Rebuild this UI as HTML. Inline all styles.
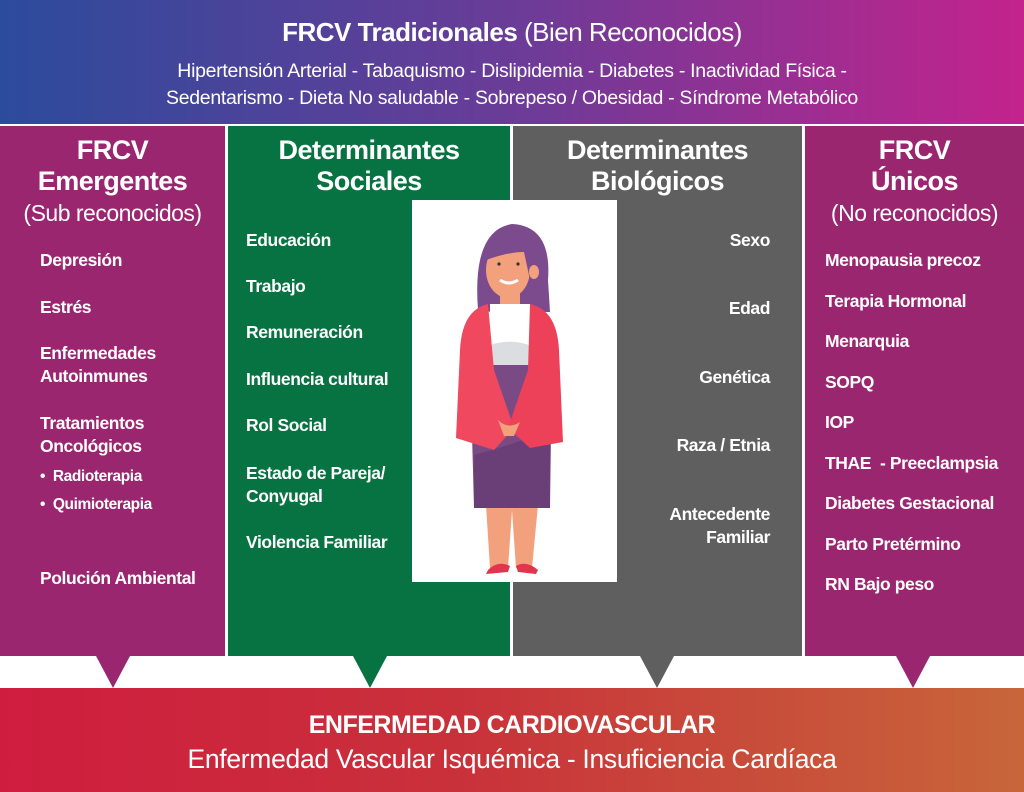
<!DOCTYPE html>
<html><head><meta charset="utf-8"><style>
*{margin:0;padding:0;box-sizing:border-box}
body{width:1024px;height:792px;position:relative;overflow:hidden;background:#fff;font-family:"Liberation Sans",sans-serif;color:#fff;font-weight:bold}
.a{position:absolute;white-space:nowrap}
.col{position:absolute;top:126px;height:530px}
.h{font-size:27px;line-height:31px;text-align:center;letter-spacing:-0.5px}
.i{font-size:17.5px;letter-spacing:-0.4px;line-height:23px}
.r{text-align:right}
</style></head><body>
<div class="a" style="left:0;top:0;width:1024px;height:124px;background:linear-gradient(90deg,#2c4b9c,#6a3c98 50%,#c3238c)"></div>
<div class="a" style="left:0;top:17px;width:1024px;text-align:center;font-size:26px;letter-spacing:-0.5px">FRCV Tradicionales <span style="font-weight:normal">(Bien Reconocidos)</span></div>
<div class="a" style="left:0;top:58px;width:1024px;text-align:center;font-size:19.5px;letter-spacing:-0.3px;font-weight:normal;line-height:27px">Hipertensión Arterial - Tabaquismo - Dislipidemia - Diabetes - Inactividad Física -<br>Sedentarismo - Dieta No saludable - Sobrepeso / Obesidad - Síndrome Metabólico</div>

<div class="col" style="left:0;width:225px;background:#9b2670"></div>
<div class="col" style="left:228px;width:282px;background:#087342"></div>
<div class="col" style="left:513px;width:289px;background:#5f5f5f"></div>
<div class="col" style="left:805px;width:219px;background:#9b2670"></div>

<div class="a h" style="left:0;top:135px;width:225px">FRCV<br>Emergentes<br><span style="font-weight:normal;font-size:23px">(Sub reconocidos)</span></div>
<div class="a h" style="left:228px;top:135px;width:282px">Determinantes<br>Sociales</div>
<div class="a h" style="left:513px;top:135px;width:289px">Determinantes<br>Biológicos</div>
<div class="a h" style="left:805px;top:135px;width:219px">FRCV<br>Únicos<br><span style="font-weight:normal;font-size:23px">(No reconocidos)</span></div>

<div class="a i" style="left:40px;top:249px">Depresión</div>
<div class="a i" style="left:40px;top:296px">Estrés</div>
<div class="a i" style="left:40px;top:342px">Enfermedades<br>Autoinmunes</div>
<div class="a i" style="left:40px;top:412px">Tratamientos<br>Oncológicos</div>
<div class="a i" style="left:40px;top:465px;font-size:15.5px">•&nbsp; Radioterapia</div>
<div class="a i" style="left:40px;top:493px;font-size:15.5px">•&nbsp; Quimioterapia</div>
<div class="a i" style="left:40px;top:567px">Polución Ambiental</div>

<div class="a i" style="left:246px;top:229px">Educación</div>
<div class="a i" style="left:246px;top:275px">Trabajo</div>
<div class="a i" style="left:246px;top:321px">Remuneración</div>
<div class="a i" style="left:246px;top:368px">Influencia cultural</div>
<div class="a i" style="left:246px;top:414px">Rol Social</div>
<div class="a i" style="left:246px;top:462px">Estado de Pareja/<br>Conyugal</div>
<div class="a i" style="left:246px;top:531px">Violencia Familiar</div>

<div class="a i r" style="right:254px;top:229px">Sexo</div>
<div class="a i r" style="right:254px;top:297px">Edad</div>
<div class="a i r" style="right:254px;top:366px">Genética</div>
<div class="a i r" style="right:254px;top:434px">Raza / Etnia</div>
<div class="a i r" style="right:254px;top:503px">Antecedente<br>Familiar</div>

<div class="a i" style="left:825px;top:249px">Menopausia precoz</div>
<div class="a i" style="left:825px;top:290px">Terapia Hormonal</div>
<div class="a i" style="left:825px;top:330px">Menarquia</div>
<div class="a i" style="left:825px;top:371px">SOPQ</div>
<div class="a i" style="left:825px;top:411px">IOP</div>
<div class="a i" style="left:825px;top:452px">THAE&nbsp; - Preeclampsia</div>
<div class="a i" style="left:825px;top:492px">Diabetes Gestacional</div>
<div class="a i" style="left:825px;top:533px">Parto Pretérmino</div>
<div class="a i" style="left:825px;top:573px">RN Bajo peso</div>

<svg class="a" style="left:412px;top:200px" width="205" height="382" viewBox="0 0 205 382">
<rect width="205" height="382" fill="#fff"/>
<path d="M66 110 Q60 30 100 24 Q140 26 136 80 L138 112 L118 112 L80 112 Z" fill="#7b4b8e"/>
<path d="M62 305 L74 305 L78 368 L96 368 L100 310 L104 368 L120 368 L126 305Z" fill="#f3a07c"/>
<path d="M76 370 Q86 360 98 366 L96 372 L74 374Z M104 366 Q114 360 126 370 L124 374 L106 372Z" fill="#e2344c"/>
<path d="M58 160 L140 160 L138 308 L62 308Z" fill="#7a4a85"/>
<path d="M62 255 Q100 245 138 230 L138 308 L62 308Z" fill="#6a3f77"/>
<rect x="88" y="88" width="20" height="18" fill="#f3a07c"/>
<ellipse cx="96" cy="70" rx="22" ry="28" fill="#f3a07c"/>
<path d="M74 60 Q80 30 112 32 Q124 42 118 80 L112 52 Q96 52 74 60Z" fill="#7b4b8e"/>
<ellipse cx="122" cy="72" rx="5" ry="7" fill="#f3a07c"/>
<path d="M78 104 L118 104 L120 165 L78 165Z" fill="#fff"/>
<path d="M78 145 Q100 138 120 146 L120 165 L78 165Z" fill="#dcdde0"/>
<path d="M76 104 Q50 110 48 150 L44 238 L82 250 L102 228 L82 170Z" fill="#f0485e"/>
<path d="M118 104 Q145 110 147 150 L151 242 L118 248 L96 228 L116 170Z" fill="#ec4158"/>
<path d="M86 220 Q96 230 108 222 L102 236 L92 236Z" fill="#f3a07c"/>
<circle cx="87" cy="64" r="1.6" fill="#333"/><circle cx="106" cy="64" r="1.6" fill="#333"/>
<path d="M88 80 Q97 86 106 80" stroke="#fff" stroke-width="3" fill="none"/>
</svg>

<svg class="a" style="left:0;top:656px" width="1024" height="33">
<g><path d="M96 0 L130 0 L113 32Z" fill="#9b2670"/><path d="M353 0 L387 0 L370 32Z" fill="#087342"/><path d="M640 0 L674 0 L657 32Z" fill="#5f5f5f"/><path d="M896 0 L930 0 L913 32Z" fill="#9b2670"/></g>
</svg>
<div class="a" style="left:0;top:688px;width:1024px;height:104px;background:linear-gradient(90deg,#cf1d3f,#c9313a 45%,#c8663a)"></div>
<div class="a" style="left:0;top:711px;width:1024px;text-align:center;font-size:25px;letter-spacing:-0.5px">ENFERMEDAD CARDIOVASCULAR</div>
<div class="a" style="left:0;top:744px;width:1024px;text-align:center;font-size:26.5px;font-weight:normal;letter-spacing:-0.3px">Enfermedad Vascular Isquémica - Insuficiencia Cardíaca</div>
</body></html>
